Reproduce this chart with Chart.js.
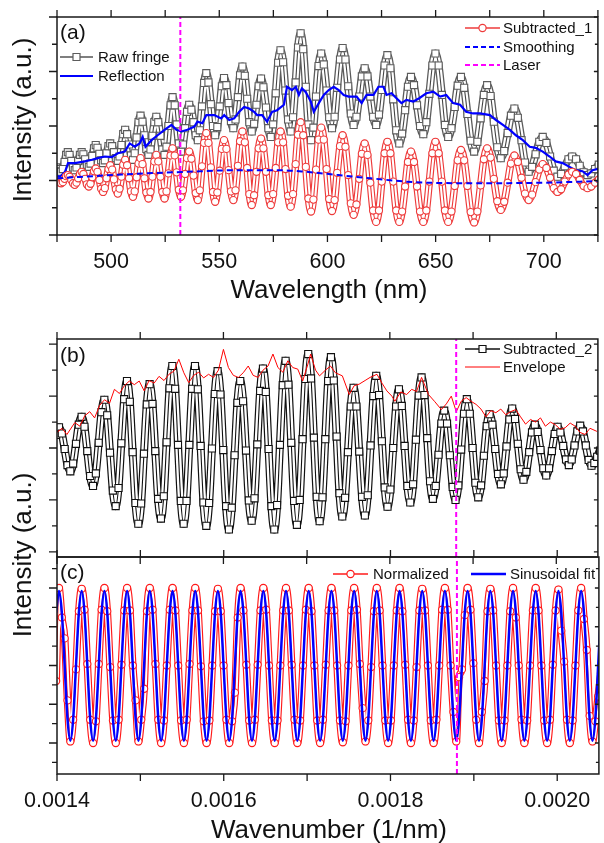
<!DOCTYPE html>
<html>
<head>
<meta charset="utf-8">
<script src="https://cdn.jsdelivr.net/npm/chart.js@4"></script>
<style>
  body { margin: 0; background: #fff; }
  #wrap { position: relative; width: 604px; height: 843px; overflow: hidden; }
  canvas { position: absolute; left: 0; }
  .title { position: absolute; font-family: "Liberation Sans", Arial, sans-serif; font-size: 26px; line-height: 1; white-space: nowrap; color: #111; transform: translate(-50%, -50%); }
  .vtitle { transform: translate(-50%, -50%) rotate(-90deg); }
</style>
</head>
<body>
<div id="wrap">
  <canvas id="chartA" width="604" height="300" style="top:0"></canvas>
  <canvas id="chartB" width="604" height="267" style="top:300px"></canvas>
  <canvas id="chartC" width="604" height="296" style="top:547px"></canvas>
  <div class="title" style="left:329px; top:289px">Wavelength (nm)</div>
  <div class="title" style="left:329px; top:829px">Wavenumber (1/nm)</div>
  <div class="title vtitle" style="left:22px; top:120px">Intensity (a.u.)</div>
  <div class="title vtitle" style="left:22px; top:555px">Intensity (a.u.)</div>
</div>
<script>
// ---- panel (a): spectra vs wavelength (nm) ----
const wavelength = [
  473.8, 474.6, 475.4, 476.1, 476.9, 477.7, 478.5, 479.2,
  480.0, 480.8, 481.6, 482.4, 483.2, 484.0, 484.8, 485.6,
  486.4, 487.2, 488.0, 488.8, 489.7, 490.5, 491.3, 492.1,
  492.9, 493.7, 494.6, 495.4, 496.3, 497.1, 497.9, 498.8,
  499.6, 500.5, 501.3, 502.2, 503.1, 503.9, 504.8, 505.6,
  506.5, 507.4, 508.3, 509.2, 510.1, 510.9, 511.8, 512.7,
  513.6, 514.5, 515.4, 516.3, 517.3, 518.2, 519.1, 520.0,
  520.9, 521.8, 522.8, 523.7, 524.7, 525.6, 526.5, 527.5,
  528.4, 529.4, 530.3, 531.3, 532.3, 533.2, 534.2, 535.1,
  536.1, 537.1, 538.1, 539.1, 540.1, 541.0, 542.0, 543.0,
  544.0, 545.0, 546.1, 547.1, 548.1, 549.1, 550.2, 551.2,
  552.2, 553.3, 554.3, 555.4, 556.5, 557.5, 558.6, 559.6,
  560.7, 561.8, 562.9, 563.9, 565.0, 566.1, 567.2, 568.2,
  569.3, 570.4, 571.6, 572.7, 573.8, 574.9, 576.1, 577.2,
  578.3, 579.5, 580.6, 581.8, 583.0, 584.1, 585.3, 586.4,
  587.6, 588.8, 590.0, 591.2, 592.4, 593.5, 594.7, 595.9,
  597.1, 598.3, 599.6, 600.8, 602.1, 603.3, 604.5, 605.8,
  607.0, 608.3, 609.6, 610.8, 612.1, 613.4, 614.7, 615.9,
  617.2, 618.5, 619.8, 621.1, 622.5, 623.8, 625.1, 626.4,
  627.7, 629.1, 630.4, 631.8, 633.2, 634.5, 635.9, 637.2,
  638.6, 640.0, 641.4, 642.8, 644.3, 645.7, 647.1, 648.5,
  649.9, 651.4, 652.9, 654.3, 655.8, 657.3, 658.8, 660.2,
  661.7, 663.2, 664.7, 666.2, 667.8, 669.3, 670.8, 672.3,
  673.8, 675.4, 676.9, 678.5, 680.1, 681.7, 683.3, 684.8,
  686.4, 688.0, 689.7, 691.3, 693.0, 694.6, 696.2, 697.9,
  699.5, 701.2, 702.9, 704.6, 706.3, 708.0, 709.7, 711.4,
  713.1, 714.9, 716.6, 718.4, 720.2, 721.9, 723.7, 725.4,
  727.2
];
const rawFringe = [
  1.25, 1.24, 1.21, 1.17, 1.16, 1.21, 1.34, 1.47,
  1.52, 1.47, 1.36, 1.24, 1.19, 1.24, 1.36, 1.47,
  1.52, 1.48, 1.39, 1.29, 1.25, 1.31, 1.45, 1.59,
  1.65, 1.60, 1.49, 1.37, 1.32, 1.37, 1.50, 1.63,
  1.68, 1.63, 1.52, 1.41, 1.36, 1.44, 1.65, 1.85,
  1.93, 1.85, 1.66, 1.46, 1.38, 1.50, 1.79, 2.07,
  2.19, 2.08, 1.83, 1.58, 1.47, 1.57, 1.82, 2.07,
  2.17, 2.07, 1.82, 1.57, 1.47, 1.62, 2.00, 2.38,
  2.53, 2.38, 2.03, 1.68, 1.53, 1.66, 1.96, 2.26,
  2.39, 2.30, 2.07, 1.83, 1.74, 1.92, 2.36, 2.79,
  2.97, 2.80, 2.40, 2.00, 1.83, 1.98, 2.36, 2.73,
  2.88, 2.75, 2.42, 2.09, 1.96, 2.12, 2.53, 2.93,
  3.09, 2.92, 2.50, 2.07, 1.90, 2.04, 2.39, 2.73,
  2.87, 2.71, 2.34, 1.96, 1.80, 2.03, 2.60, 3.16,
  3.39, 3.17, 2.65, 2.12, 1.90, 2.16, 2.80, 3.44,
  3.70, 3.41, 2.72, 2.03, 1.74, 1.97, 2.54, 3.10,
  3.33, 3.13, 2.65, 2.16, 1.96, 2.17, 2.70, 3.22,
  3.43, 3.22, 2.73, 2.23, 2.02, 2.17, 2.54, 2.91,
  3.06, 2.91, 2.54, 2.17, 2.02, 2.21, 2.66, 3.11,
  3.30, 3.06, 2.49, 1.92, 1.68, 1.86, 2.29, 2.72,
  2.90, 2.75, 2.38, 2.00, 1.85, 2.07, 2.59, 3.11,
  3.33, 3.11, 2.57, 2.02, 1.80, 1.96, 2.35, 2.74,
  2.90, 2.70, 2.22, 1.73, 1.53, 1.71, 2.14, 2.57,
  2.75, 2.55, 2.08, 1.61, 1.41, 1.54, 1.87, 2.19,
  2.32, 2.15, 1.74, 1.33, 1.16, 1.25, 1.48, 1.71,
  1.80, 1.69, 1.44, 1.18, 1.07, 1.12, 1.26, 1.39,
  1.44, 1.39, 1.27, 1.15, 1.10, 1.13, 1.21, 1.29,
  1.32
];
const subtracted1 = [
  1.00, 0.99, 0.98, 0.96, 0.95, 0.97, 1.03, 1.08,
  1.10, 1.07, 1.01, 0.95, 0.92, 0.96, 1.04, 1.12,
  1.16, 1.12, 1.03, 0.93, 0.89, 0.94, 1.06, 1.17,
  1.22, 1.16, 1.01, 0.85, 0.79, 0.86, 1.04, 1.21,
  1.28, 1.20, 1.02, 0.84, 0.76, 0.85, 1.07, 1.29,
  1.38, 1.28, 1.04, 0.80, 0.70, 0.80, 1.06, 1.31,
  1.41, 1.30, 1.04, 0.78, 0.67, 0.79, 1.07, 1.35,
  1.47, 1.35, 1.07, 0.79, 0.67, 0.80, 1.13, 1.46,
  1.59, 1.46, 1.15, 0.83, 0.70, 0.82, 1.12, 1.41,
  1.53, 1.40, 1.09, 0.77, 0.64, 0.82, 1.26, 1.69,
  1.87, 1.69, 1.24, 0.79, 0.61, 0.78, 1.18, 1.58,
  1.74, 1.58, 1.19, 0.80, 0.64, 0.82, 1.27, 1.72,
  1.90, 1.70, 1.23, 0.75, 0.55, 0.73, 1.16, 1.59,
  1.77, 1.59, 1.16, 0.73, 0.55, 0.75, 1.23, 1.70,
  1.90, 1.70, 1.21, 0.72, 0.52, 0.75, 1.30, 1.84,
  2.07, 1.83, 1.25, 0.67, 0.43, 0.65, 1.20, 1.75,
  1.97, 1.75, 1.21, 0.66, 0.44, 0.64, 1.14, 1.63,
  1.83, 1.62, 1.10, 0.58, 0.37, 0.56, 1.03, 1.49,
  1.68, 1.47, 0.96, 0.45, 0.24, 0.45, 0.98, 1.50,
  1.71, 1.50, 0.98, 0.45, 0.24, 0.43, 0.89, 1.34,
  1.53, 1.34, 0.89, 0.43, 0.24, 0.45, 0.98, 1.50,
  1.71, 1.50, 0.98, 0.45, 0.24, 0.43, 0.90, 1.37,
  1.56, 1.37, 0.90, 0.42, 0.23, 0.43, 0.91, 1.39,
  1.59, 1.42, 1.03, 0.62, 0.46, 0.61, 0.96, 1.31,
  1.46, 1.34, 1.05, 0.76, 0.64, 0.74, 0.97, 1.20,
  1.30, 1.23, 1.05, 0.86, 0.79, 0.84, 0.98, 1.11,
  1.16, 1.12, 1.01, 0.90, 0.86, 0.89, 0.96, 1.02,
  1.05
];
const reflWavelength = [
  475.0, 476.4, 478.7, 480.1, 483.3, 487.9, 491.1, 493.9, 497.1, 500.3,
  503.1, 506.3, 508.6, 510.9, 513.2, 514.6, 515.9, 518.7, 521.5, 524.7,
  527.9, 530.2, 532.5, 535.3, 538.5, 539.9, 542.2, 544.0, 547.7, 550.9,
  552.3, 554.6, 556.9, 559.2, 561.5, 563.8, 566.1, 567.5, 569.8, 572.1,
  574.4, 576.7, 579.9, 581.3, 583.6, 585.4, 586.8, 588.2, 590.0, 592.3,
  593.7, 596.0, 598.3, 600.6, 602.9, 605.2, 607.5, 609.8, 613.5, 615.8,
  618.1, 621.3, 623.6, 625.9, 627.3, 629.6, 631.9, 634.2, 636.5, 639.7,
  642.4, 645.7, 648.9, 652.1, 654.9, 658.1, 661.3, 664.1, 667.3, 670.5,
  675.1, 677.9, 681.1, 684.3, 687.1, 690.3, 693.5, 696.3, 699.5, 702.7,
  705.5, 708.7, 711.9, 714.7, 717.9, 720.2, 722.5, 725.7
];
const reflIntensity = [
  1.08, 1.07, 1.16, 1.32, 1.32, 1.35, 1.38, 1.41, 1.44, 1.43,
  1.50, 1.53, 1.68, 1.62, 1.68, 1.80, 1.62, 1.74, 1.83, 1.93,
  2.02, 1.93, 1.90, 1.93, 1.99, 2.08, 2.05, 2.20, 2.20, 2.14,
  2.20, 2.11, 2.14, 2.26, 2.35, 2.32, 2.26, 2.20, 2.20, 2.08,
  2.26, 2.29, 2.39, 2.72, 2.66, 2.72, 2.57, 2.69, 2.62, 2.45,
  2.26, 2.42, 2.57, 2.66, 2.72, 2.66, 2.57, 2.54, 2.54, 2.42,
  2.57, 2.57, 2.72, 2.72, 2.57, 2.60, 2.51, 2.42, 2.48, 2.45,
  2.51, 2.60, 2.63, 2.54, 2.57, 2.42, 2.39, 2.26, 2.23, 2.23,
  2.20, 2.11, 2.02, 1.93, 1.83, 1.74, 1.62, 1.60, 1.53, 1.44,
  1.35, 1.32, 1.25, 1.19, 1.17, 1.10, 1.19, 1.22
];
const smoothWavelength = [475, 505, 535, 560, 577, 590, 605, 620, 640, 670, 700, 725];
const smoothIntensity = [1.04, 1.11, 1.16, 1.19, 1.19, 1.16, 1.10, 1.04, 0.97, 0.95, 0.96, 0.99];
const laserWavelength = 532;
const wavelengthTicks = [500, 550, 600, 650, 700];
const wavelengthMinorTicks = [475, 525, 575, 625, 675, 725];

// ---- panels (b) and (c): vs wavenumber, in units of 1e-6 /nm ----
const wavenumber = [
  1399.0,
  1402.4, 1405.8, 1409.2, 1412.6, 1416.0, 1419.4, 1422.8, 1426.2,
  1429.6, 1433.0, 1436.4, 1439.8, 1443.3, 1446.7, 1450.1, 1453.5,
  1456.9, 1460.3, 1463.7, 1467.1, 1470.5, 1473.9, 1477.3, 1480.7,
  1484.1, 1487.5, 1490.9, 1494.3, 1497.7, 1501.1, 1504.5, 1507.9,
  1511.3, 1514.7, 1518.1, 1521.5, 1524.9, 1528.3, 1531.7, 1535.2,
  1538.6, 1542.0, 1545.4, 1548.8, 1552.2, 1555.6, 1559.0, 1562.4,
  1565.8, 1569.2, 1572.6, 1576.0, 1579.4, 1582.8, 1586.2, 1589.6,
  1593.0, 1596.4, 1599.8, 1603.2, 1606.6, 1610.0, 1613.4, 1616.8,
  1620.2, 1623.6, 1627.1, 1630.5, 1633.9, 1637.3, 1640.7, 1644.1,
  1647.5, 1650.9, 1654.3, 1657.7, 1661.1, 1664.5, 1667.9, 1671.3,
  1674.7, 1678.1, 1681.5, 1684.9, 1688.3, 1691.7, 1695.1, 1698.5,
  1701.9, 1705.3, 1708.7, 1712.1, 1715.6, 1719.0, 1722.4, 1725.8,
  1729.2, 1732.6, 1736.0, 1739.4, 1742.8, 1746.2, 1749.6, 1753.0,
  1756.4, 1759.8, 1763.2, 1766.6, 1770.0, 1773.4, 1776.8, 1780.2,
  1783.6, 1787.0, 1790.4, 1793.8, 1797.2, 1800.6, 1804.0, 1807.5,
  1810.9, 1814.3, 1817.7, 1821.1, 1824.5, 1827.9, 1831.3, 1834.7,
  1838.1, 1841.5, 1844.9, 1848.3, 1851.7, 1855.1, 1858.5, 1861.9,
  1865.3, 1868.7, 1872.1, 1875.5, 1878.9, 1882.3, 1885.7, 1889.1,
  1892.5, 1896.0, 1899.4, 1902.8, 1906.2, 1909.6, 1913.0, 1916.4,
  1919.8, 1923.2, 1926.6, 1930.0, 1933.4, 1936.8, 1940.2, 1943.6,
  1947.0, 1950.4, 1953.8, 1957.2, 1960.6, 1964.0, 1967.4, 1970.8,
  1974.2, 1977.6, 1981.0, 1984.4, 1987.9, 1991.3, 1994.7, 1998.1,
  2001.5, 2004.9, 2008.3, 2011.7, 2015.1, 2018.5, 2021.9, 2025.3,
  2028.7, 2032.1, 2035.5, 2038.9, 2042.3, 2045.7, 2049.1, 2052.5,
  2055.9
];
const subtracted2 = [
  2.25,
  2.40, 2.28, 1.98, 1.67, 1.55, 1.70, 2.08, 2.45,
  2.60, 2.41, 1.94, 1.46, 1.27, 1.51, 2.10, 2.69,
  2.93, 2.63, 1.91, 1.18, 0.88, 1.23, 2.09, 2.94,
  3.29, 2.89, 1.92, 0.94, 0.54, 0.93, 1.89, 2.84,
  3.23, 2.85, 1.94, 1.02, 0.64, 1.07, 2.11, 3.15,
  3.58, 3.14, 2.06, 0.98, 0.54, 0.98, 2.06, 3.14,
  3.58, 3.13, 2.04, 0.95, 0.50, 0.94, 1.99, 3.04,
  3.48, 3.03, 1.96, 0.88, 0.43, 0.85, 1.86, 2.87,
  3.29, 2.90, 1.95, 0.99, 0.60, 1.03, 2.07, 3.10,
  3.53, 3.08, 1.98, 0.88, 0.43, 0.90, 2.06, 3.21,
  3.68, 3.22, 2.10, 0.98, 0.52, 1.00, 2.17, 3.33,
  3.81, 3.34, 2.20, 1.06, 0.59, 1.05, 2.17, 3.29,
  3.75, 3.30, 2.22, 1.13, 0.68, 1.04, 1.92, 2.80,
  3.16, 2.80, 1.93, 1.06, 0.70, 1.09, 2.05, 3.00,
  3.39, 3.02, 2.13, 1.24, 0.87, 1.20, 2.00, 2.80,
  3.13, 2.81, 2.04, 1.27, 0.95, 1.30, 2.16, 3.01,
  3.36, 3.02, 2.19, 1.36, 1.02, 1.27, 1.87, 2.47,
  2.72, 2.47, 1.86, 1.25, 1.00, 1.28, 1.97, 2.66,
  2.94, 2.66, 2.00, 1.33, 1.05, 1.28, 1.85, 2.42,
  2.65, 2.45, 1.98, 1.50, 1.30, 1.51, 2.03, 2.55,
  2.76, 2.56, 2.08, 1.59, 1.39, 1.54, 1.92, 2.30,
  2.45, 2.31, 1.96, 1.61, 1.47, 1.61, 1.94, 2.27,
  2.41, 2.30, 2.04, 1.78, 1.67, 1.78, 2.05, 2.32,
  2.43, 2.32, 2.05, 1.77, 1.66, 1.71, 1.83, 1.95,
  2.00
];
const envWavenumber = [
  1400.0, 1406.0, 1411.9, 1421.4, 1427.4, 1433.3, 1439.3, 1445.2, 1451.2, 1457.1,
  1463.1, 1469.0, 1475.0, 1481.0, 1486.9, 1492.9, 1498.8, 1504.8, 1510.7, 1516.7,
  1522.6, 1528.6, 1534.5, 1540.5, 1546.4, 1552.4, 1558.3, 1564.3, 1570.2, 1576.2,
  1582.1, 1588.1, 1594.0, 1600.0, 1606.0, 1611.9, 1617.9, 1623.8, 1629.8, 1635.7,
  1641.7, 1647.6, 1653.6, 1659.5, 1665.5, 1671.4, 1677.4, 1683.3, 1689.3, 1695.2,
  1701.2, 1704.8, 1710.7, 1715.5, 1722.6, 1728.6, 1734.5, 1742.9, 1751.2, 1757.1,
  1763.1, 1770.2, 1776.2, 1784.5, 1790.5, 1796.4, 1802.4, 1806.0, 1813.1, 1820.2,
  1826.2, 1832.1, 1838.1, 1846.4, 1853.6, 1861.9, 1867.9, 1873.8, 1879.8, 1885.7,
  1891.7, 1897.6, 1903.6, 1909.5, 1915.5, 1921.4, 1927.4, 1933.3, 1939.3, 1945.2,
  1951.2, 1957.1, 1963.1, 1969.0, 1975.0, 1981.0, 1986.9, 1992.9, 1998.8, 2004.8,
  2010.7, 2016.7, 2022.6, 2028.6, 2034.5, 2040.5, 2048.8
];
const envIntensity = [
  2.30, 2.38, 2.26, 2.49, 2.42, 2.62, 2.70, 2.58, 2.82, 2.93,
  2.86, 3.13, 3.05, 3.20, 3.29, 3.22, 3.29, 3.10, 3.30, 3.25,
  3.38, 3.30, 3.42, 3.48, 3.71, 3.45, 3.26, 3.40, 3.46, 3.35,
  3.42, 3.36, 3.50, 3.90, 3.55, 3.40, 3.36, 3.45, 3.58, 3.40,
  3.36, 3.50, 3.58, 3.81, 3.55, 3.46, 3.68, 3.55, 3.52, 3.29,
  3.60, 3.81, 3.50, 3.39, 3.50, 3.58, 3.45, 3.39, 3.03, 3.20,
  3.23, 3.30, 3.36, 3.42, 3.25, 3.10, 3.00, 2.90, 3.08, 3.03,
  3.13, 3.09, 3.36, 3.03, 2.90, 2.74, 2.85, 3.00, 2.70, 2.90,
  2.97, 2.90, 2.84, 2.75, 2.60, 2.72, 2.68, 2.75, 2.64, 2.70,
  2.74, 2.60, 2.46, 2.55, 2.50, 2.58, 2.42, 2.50, 2.45, 2.36,
  2.39, 2.48, 2.42, 2.30, 2.26, 2.38, 2.32
];
const normalized = [
  -0.20,
  1.00, 0.62, 0.35, -0.45, -0.98, -0.70, -0.05, 0.70,
  0.99, 0.72, 0.02, -0.70, -1.00, -0.72, 0.02, 0.72,
  1.00, 0.70, -0.02, -0.71, -1.00, -0.70, 0.01, 0.71,
  1.00, 0.71, 0.00, -0.45, -0.98, -0.70, -0.30, 0.70,
  1.00, 0.72, 0.02, -0.70, -1.00, -0.71, 0.00, 0.72,
  1.00, 0.71, 0.00, -0.71, -1.00, -0.70, 0.02, 0.71,
  1.00, 0.71, -0.01, -0.72, -1.00, -0.71, 0.00, 0.70,
  0.99, 0.70, 0.00, -0.70, -1.00, -0.72, -0.35, 0.62,
  1.00, 0.71, 0.01, -0.71, -1.00, -0.70, 0.01, 0.71,
  1.00, 0.72, 0.00, -0.71, -1.00, -0.71, 0.00, 0.71,
  1.00, 0.71, 0.01, -0.70, -1.00, -0.71, 0.00, 0.72,
  1.00, 0.70, 0.00, -0.71, -1.00, -0.70, 0.01, 0.71,
  1.00, 0.71, 0.00, -0.71, -0.99, -0.72, 0.00, 0.71,
  1.00, 0.72, 0.02, -0.55, -0.98, -0.71, -0.02, 0.70,
  1.00, 0.71, 0.00, -0.71, -1.00, -0.71, 0.00, 0.71,
  1.00, 0.70, 0.01, -0.70, -1.00, -0.71, -0.02, 0.71,
  0.99, 0.71, 0.00, -0.71, -1.00, -0.70, 0.00, 0.72,
  1.00, 0.72, 0.00, -0.60, -0.98, -0.15, -0.05, 0.65,
  1.00, 0.72, 0.03, -0.70, -1.00, -0.60, -0.20, 0.70,
  0.99, 0.71, 0.00, -0.71, -1.00, -0.71, 0.00, 0.70,
  1.00, 0.62, 0.00, -0.70, -1.00, -0.71, 0.00, 0.71,
  1.00, 0.71, 0.00, -0.71, -1.00, -0.70, 0.01, 0.71,
  0.98, 0.45, 0.05, -0.70, -1.00, -0.71, 0.00, 0.71,
  1.00, 0.60, 0.20, -0.65, -0.98, -0.72, -0.40, -0.10,
  0.15
];
const sinusoidalFit = [
  0.68,
  0.96, 0.68, 0.00, -0.69, -0.97, -0.69, 0.00, 0.68,
  0.96, 0.68, 0.00, -0.69, -0.97, -0.69, 0.00, 0.68,
  0.96, 0.68, 0.00, -0.69, -0.97, -0.69, 0.00, 0.68,
  0.96, 0.68, 0.00, -0.69, -0.97, -0.69, 0.00, 0.68,
  0.96, 0.68, 0.00, -0.69, -0.97, -0.69, 0.00, 0.68,
  0.96, 0.68, 0.00, -0.69, -0.97, -0.69, 0.00, 0.68,
  0.96, 0.68, 0.00, -0.69, -0.97, -0.69, 0.00, 0.68,
  0.96, 0.68, 0.00, -0.69, -0.97, -0.69, 0.00, 0.68,
  0.96, 0.68, 0.00, -0.69, -0.97, -0.69, 0.00, 0.68,
  0.96, 0.68, 0.00, -0.69, -0.97, -0.69, 0.00, 0.68,
  0.96, 0.68, 0.00, -0.69, -0.97, -0.69, 0.00, 0.68,
  0.96, 0.68, 0.00, -0.69, -0.97, -0.69, 0.00, 0.68,
  0.96, 0.68, 0.00, -0.69, -0.97, -0.69, 0.00, 0.68,
  0.96, 0.68, 0.00, -0.69, -0.97, -0.69, 0.00, 0.68,
  0.96, 0.68, 0.00, -0.69, -0.97, -0.69, 0.00, 0.68,
  0.96, 0.68, 0.00, -0.69, -0.97, -0.69, 0.00, 0.68,
  0.96, 0.68, 0.00, -0.69, -0.97, -0.69, 0.00, 0.68,
  0.96, 0.68, 0.00, -0.69, -0.97, -0.69, 0.00, 0.68,
  0.96, 0.68, 0.00, -0.69, -0.97, -0.69, 0.00, 0.68,
  0.96, 0.68, 0.00, -0.69, -0.97, -0.69, 0.00, 0.68,
  0.96, 0.68, 0.00, -0.69, -0.97, -0.69, 0.00, 0.68,
  0.96, 0.68, 0.00, -0.69, -0.97, -0.69, 0.00, 0.68,
  0.96, 0.68, 0.00, -0.69, -0.97, -0.69, 0.00, 0.68,
  0.96, 0.68, 0.00, -0.69, -0.97, -0.69, 0.00, 0.68,
  0.96
];
const laserWavenumber = 1879.7;
const wavenumberTicks = [1400, 1600, 1800, 2000];
const wavenumberMinorTicks = [1500, 1700, 1900];

const FONT = '"Liberation Sans", Arial, Helvetica, sans-serif';

function pairs(xs, ys) {
  return ys.map((y, i) => ({ x: xs[i], y: y }));
}

// a scatter-with-line series drawn as a band of hollow markers:
// coloured edge, white core, thin centre line and the markers themselves
function markerBand(label, data, color, lineColor, style, radius, outer, inner) {
  const common = { data, pointRadius: 0, cubicInterpolationMode: "monotone", clip: 0, borderJoinStyle: "round" };
  return [
    { ...common, label, borderColor: lineColor, borderWidth: 1.1, pointStyle: style, pointRadius: radius,
      pointBorderColor: color, pointBackgroundColor: "#fff", pointBorderWidth: 1.1 },
    { ...common, label: label + " core", borderColor: "#fff", borderWidth: inner },
    { ...common, label: label + " edge", borderColor: color, borderWidth: outer },
  ];
}

function panelOptions(xMin, xMax, yMin, yMax, padTop, padBottom) {
  return {
    responsive: false,
    animation: false,
    devicePixelRatio: 1,
    events: [],
    layout: { padding: { left: 57, right: 2, top: padTop, bottom: padBottom } },
    scales: {
      x: { type: "linear", min: xMin, max: xMax, display: false },
      y: { type: "linear", min: yMin, max: yMax, display: false },
    },
    plugins: { legend: { display: false }, tooltip: { enabled: false } },
  };
}

// draw a legend sample: line, optional marker, label
function legendItem(ctx, it) {
  ctx.save();
  ctx.strokeStyle = it.color;
  ctx.lineWidth = it.width;
  ctx.setLineDash(it.dash || []);
  ctx.beginPath();
  ctx.moveTo(it.x0, it.y);
  ctx.lineTo(it.x1, it.y);
  ctx.stroke();
  ctx.setLineDash([]);
  const cx = (it.x0 + it.x1) / 2;
  if (it.marker) {
    ctx.fillStyle = "#fff";
    ctx.strokeStyle = it.markerColor || it.color;
    ctx.lineWidth = 1.2;
    ctx.beginPath();
    if (it.marker === "rect") ctx.rect(cx - 3.5, it.y - 3.5, 7, 7);
    else ctx.arc(cx, it.y, 3.6, 0, Math.PI * 2);
    ctx.fill();
    ctx.stroke();
  }
  ctx.fillStyle = "#111";
  ctx.font = "15px " + FONT;
  ctx.textBaseline = "middle";
  ctx.textAlign = "left";
  ctx.fillText(it.label, it.tx, it.y + 1);
  ctx.restore();
}

// frame with mirrored ticks, tick labels, panel tag and legend
function framePlugin(cfg) {
  return {
    id: "frame",
    afterDraw(chart) {
      const { ctx, chartArea: a } = chart;
      const xs = chart.scales.x;
      const ys = chart.scales.y;
      ctx.save();
      ctx.strokeStyle = "#1a1a1a";
      ctx.lineWidth = 1.5;
      ctx.strokeRect(a.left, a.top, a.right - a.left, a.bottom - a.top);
      ctx.lineWidth = 1.3;
      ctx.beginPath();
      cfg.xMajor.concat(cfg.xMinor).forEach((v) => {
        const px = xs.getPixelForValue(v);
        ctx.moveTo(px, a.bottom);
        ctx.lineTo(px, a.bottom + 7);
        ctx.moveTo(px, a.top);
        ctx.lineTo(px, a.top - 7);
      });
      cfg.yMajor.forEach((v) => {
        const py = ys.getPixelForValue(v);
        ctx.moveTo(a.left, py);
        ctx.lineTo(a.left - 8, py);
        ctx.moveTo(a.right, py);
        ctx.lineTo(a.right - 4, py);
      });
      cfg.yMinor.forEach((v) => {
        const py = ys.getPixelForValue(v);
        ctx.moveTo(a.left, py);
        ctx.lineTo(a.left - 5, py);
        ctx.moveTo(a.right, py);
        ctx.lineTo(a.right - 3, py);
      });
      ctx.stroke();

      ctx.fillStyle = "#111";
      if (cfg.labelY) {
        ctx.font = "21.5px " + FONT;
        ctx.textAlign = "center";
        ctx.textBaseline = "alphabetic";
        cfg.xMajor.forEach((v) => {
          ctx.fillText(cfg.fmt(v), xs.getPixelForValue(v), cfg.labelY);
        });
      }
      ctx.font = "21px " + FONT;
      ctx.textAlign = "left";
      ctx.textBaseline = "middle";
      ctx.fillText(cfg.tag, 60, cfg.tagY);
      ctx.restore();
      cfg.legend.forEach((it) => legendItem(ctx, it));
    },
  };
}

const RED_A = "#ee3b3b";
const RED_C = "#ff1a1a";
const GRAY = "#5c5c5c";

// Panel (a)
new Chart(document.getElementById("chartA"), {
  type: "line",
  data: {
    datasets: [
      { label: "Laser", data: [{ x: laserWavelength, y: 0 }, { x: laserWavelength, y: 4 }],
        borderColor: "#ff00ff", borderWidth: 2, borderDash: [5, 3], pointRadius: 0, clip: 0 },
      { label: "Smoothing", data: pairs(smoothWavelength, smoothIntensity),
        borderColor: "#0000ff", borderWidth: 2, borderDash: [6, 4], pointRadius: 0,
        cubicInterpolationMode: "monotone", clip: 0 },
      ...markerBand("Subtracted_1", pairs(wavelength, subtracted1), RED_A, RED_A, "circle", 3.6, 7.5, 5.2),
      { label: "Reflection", data: pairs(reflWavelength, reflIntensity),
        borderColor: "#0000ff", borderWidth: 2.2, pointRadius: 0, clip: 0 },
      ...markerBand("Raw fringe", pairs(wavelength, rawFringe), GRAY, "#444", "rect", 5, 8, 5.4),
    ],
  },
  options: panelOptions(475, 725, 0, 4, 17, 65),
  plugins: [framePlugin({
    xMajor: wavelengthTicks, xMinor: wavelengthMinorTicks,
    yMajor: [0, 1, 2, 3, 4], yMinor: [0.5, 1.5, 2.5, 3.5],
    labelY: 268, fmt: (v) => String(v), tag: "(a)", tagY: 33,
    legend: [
      { label: "Raw fringe", x0: 60, x1: 93, tx: 98, y: 57, color: "#555", width: 1.5, marker: "rect", markerColor: GRAY },
      { label: "Reflection", x0: 60, x1: 93, tx: 98, y: 76, color: "#0000ff", width: 2.2 },
      { label: "Subtracted_1", x0: 465, x1: 500, tx: 503, y: 28, color: RED_A, width: 1.5, marker: "circle" },
      { label: "Smoothing", x0: 465, x1: 500, tx: 503, y: 47, color: "#0000ff", width: 2, dash: [5, 3] },
      { label: "Laser", x0: 465, x1: 500, tx: 503, y: 65, color: "#ff00ff", width: 2, dash: [5, 3] },
    ],
  })],
});

// Panel (b)
new Chart(document.getElementById("chartB"), {
  type: "line",
  data: {
    datasets: [
      { label: "Laser", data: [{ x: laserWavenumber, y: -0.1 }, { x: laserWavenumber, y: 4.1 }],
        borderColor: "#ff00ff", borderWidth: 2, borderDash: [5, 3], pointRadius: 0, clip: 0 },
      { label: "Envelope", data: pairs(envWavenumber, envIntensity),
        borderColor: "#ff0000", borderWidth: 1, pointRadius: 0, clip: 0 },
      ...markerBand("Subtracted_2", pairs(wavenumber, subtracted2), "#111", "#111", "rect", 5, 8, 5.6),
    ],
  },
  options: panelOptions(1400, 2050, -0.1, 4.1, 39, 10),
  plugins: [framePlugin({
    xMajor: wavenumberTicks, xMinor: wavenumberMinorTicks,
    yMajor: [0, 1, 2, 3, 4], yMinor: [0.5, 1.5, 2.5, 3.5],
    labelY: null, tag: "(b)", tagY: 56,
    legend: [
      { label: "Subtracted_2", x0: 465, x1: 500, tx: 503, y: 49, color: "#111", width: 1.3, marker: "rect" },
      { label: "Envelope", x0: 465, x1: 500, tx: 503, y: 67, color: "#ff0000", width: 1 },
    ],
  })],
});

// Panel (c)
new Chart(document.getElementById("chartC"), {
  type: "line",
  data: {
    datasets: [
      { label: "Laser", data: [{ x: laserWavenumber, y: -1.4 }, { x: laserWavenumber, y: 1.4 }],
        borderColor: "#ff00ff", borderWidth: 2, borderDash: [5, 3], pointRadius: 0, clip: 0 },
      { label: "Sinusoidal fit", data: pairs(wavenumber, sinusoidalFit),
        borderColor: "#0000ff", borderWidth: 2.5, pointRadius: 0,
        cubicInterpolationMode: "monotone", clip: 0 },
      ...markerBand("Normalized", pairs(wavenumber, normalized), RED_C, RED_C, "circle", 3.6, 7.5, 5.2),
    ],
  },
  options: panelOptions(1400, 2050, -1.4, 1.4, 10, 69),
  plugins: [framePlugin({
    xMajor: wavenumberTicks, xMinor: wavenumberMinorTicks,
    yMajor: [-1, -0.5, 0, 0.5, 1], yMinor: [-1.25, -0.75, -0.25, 0.25, 0.75, 1.25],
    labelY: 260, fmt: (v) => (v * 1e-6).toFixed(4), tag: "(c)", tagY: 26,
    legend: [
      { label: "Normalized", x0: 333, x1: 368, tx: 373, y: 27, color: RED_C, width: 1.5, marker: "circle" },
      { label: "Sinusoidal fit", x0: 471, x1: 506, tx: 510, y: 27, color: "#0000ff", width: 2.5 },
    ],
  })],
});
</script>
</body>
</html>
